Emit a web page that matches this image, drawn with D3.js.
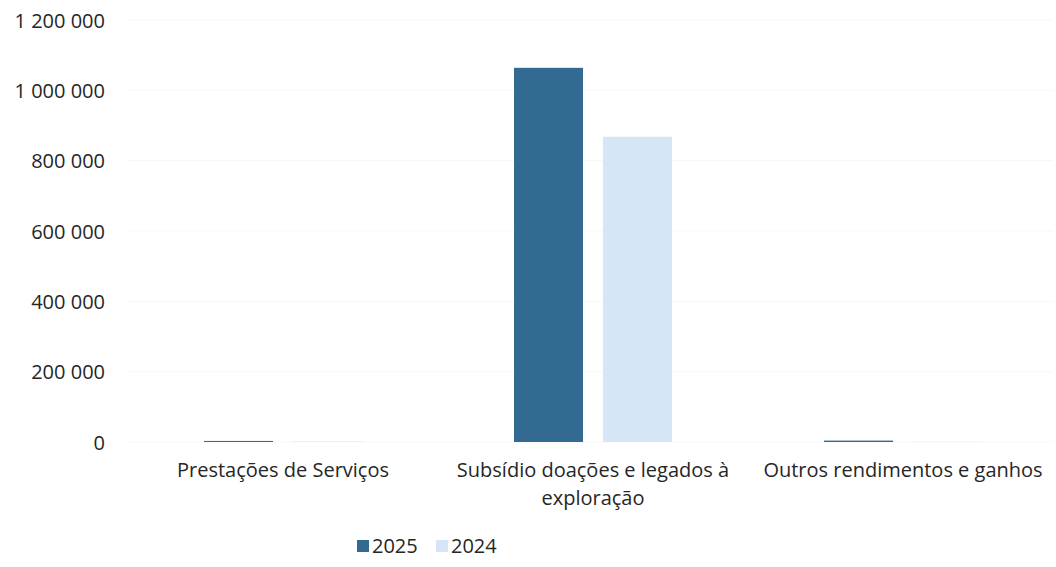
<!DOCTYPE html>
<html>
<head>
<meta charset="utf-8">
<script src="https://cdn.jsdelivr.net/npm/d3@7"></script>
<style>
  body { margin: 0; background: #fff; }
  text { font-family: "Open Sans", sans-serif; fill: #262626; }
</style>
</head>
<body>
<div id="chart"></div>
<script>
// values
const categories = ["Prestações de Serviços", "Subsídio doações e legados à exploração", "Outros rendimentos e ganhos"];
const series = ["2025", "2024"];
const values2025 = [3000, 1064000, 4000];
const values2024 = [1500, 868000, 500];
const yTicks = [0, 200000, 400000, 600000, 800000, 1000000, 1200000];
const colors = ["#336a92", "#d7e6f6"];

const width = 1056, height = 567;
const plot = { left: 128, right: 1058, top: 20, bottom: 442 };

const svg = d3.select("#chart").append("svg")
    .attr("width", width)
    .attr("height", height);

const x0 = d3.scaleBand().domain(categories).range([plot.left, plot.right]).padding(0);
const groupW = 158;
const x1 = d3.scaleBand().domain(series)
    .range([(x0.bandwidth() - groupW) / 2, (x0.bandwidth() + groupW) / 2])
    .paddingInner(0.225);
const y = d3.scaleLinear().domain([0, 1200000]).range([plot.bottom, plot.top]);

const fmt = v => d3.format(",")(v).replace(/,/g, " ");

// faint gridlines (barely visible in the scan)
svg.append("g")
    .selectAll("line")
    .data(yTicks)
    .join("line")
    .attr("x1", plot.left).attr("x2", plot.right - 5)
    .attr("y1", d => y(d)).attr("y2", d => y(d))
    .attr("stroke", "#f7f7f7");

const yAxis = svg.append("g")
    .attr("transform", `translate(${plot.left - 23},0)`)
    .call(d3.axisLeft(y).tickValues(yTicks).tickFormat(fmt).tickSize(0).tickPadding(0));
yAxis.select(".domain").remove();
yAxis.selectAll("text").style("font-size", "20px").attr("dy", "0.35em");

const data = categories.map((c, i) => ({ cat: c, vals: [values2025[i], values2024[i]] }));

svg.append("g")
    .selectAll("g")
    .data(data)
    .join("g")
    .attr("transform", d => `translate(${x0(d.cat)},0)`)
    .selectAll("rect")
    .data(d => d.vals.map((v, j) => ({ key: series[j], v: v, j: j })))
    .join("rect")
    .attr("x", d => x1(d.key))
    .attr("width", x1.bandwidth())
    .attr("y", d => y(d.v))
    .attr("height", d => Math.max(0, y(0) - y(d.v)))
    .attr("fill", d => colors[d.j]);

// category labels, wrapped
const labels = svg.append("g")
    .selectAll("text")
    .data(categories)
    .join("text")
    .attr("x", d => x0(d) + x0.bandwidth() / 2)
    .attr("y", 477)
    .attr("text-anchor", "middle")
    .style("font-size", "20px")
    .text(d => d);

labels.each(function (d) {
    const t = d3.select(this);
    const words = d.split(" ");
    const maxW = 300;
    t.text(null);
    let line = [];
    let ts = t.append("tspan").attr("x", t.attr("x")).attr("dy", 0);
    for (const w of words) {
        line.push(w);
        ts.text(line.join(" "));
        if (ts.node().getComputedTextLength() > maxW && line.length > 1) {
            line.pop();
            ts.text(line.join(" "));
            line = [w];
            ts = t.append("tspan").attr("x", t.attr("x")).attr("dy", "1.4em").text(w);
        }
    }
});

// legend
const legend = svg.append("g").attr("transform", "translate(357,546)");
const items = legend.selectAll("g")
    .data(series)
    .join("g")
    .attr("transform", (d, i) => `translate(${i * 79},0)`);
items.append("rect")
    .attr("x", 0).attr("y", -6)
    .attr("width", 12).attr("height", 12)
    .attr("fill", (d, i) => colors[i]);
items.append("text")
    .attr("x", 15).attr("y", 0)
    .attr("dy", "0.35em")
    .style("font-size", "20px")
    .text(d => d);
</script>
</body>
</html>
